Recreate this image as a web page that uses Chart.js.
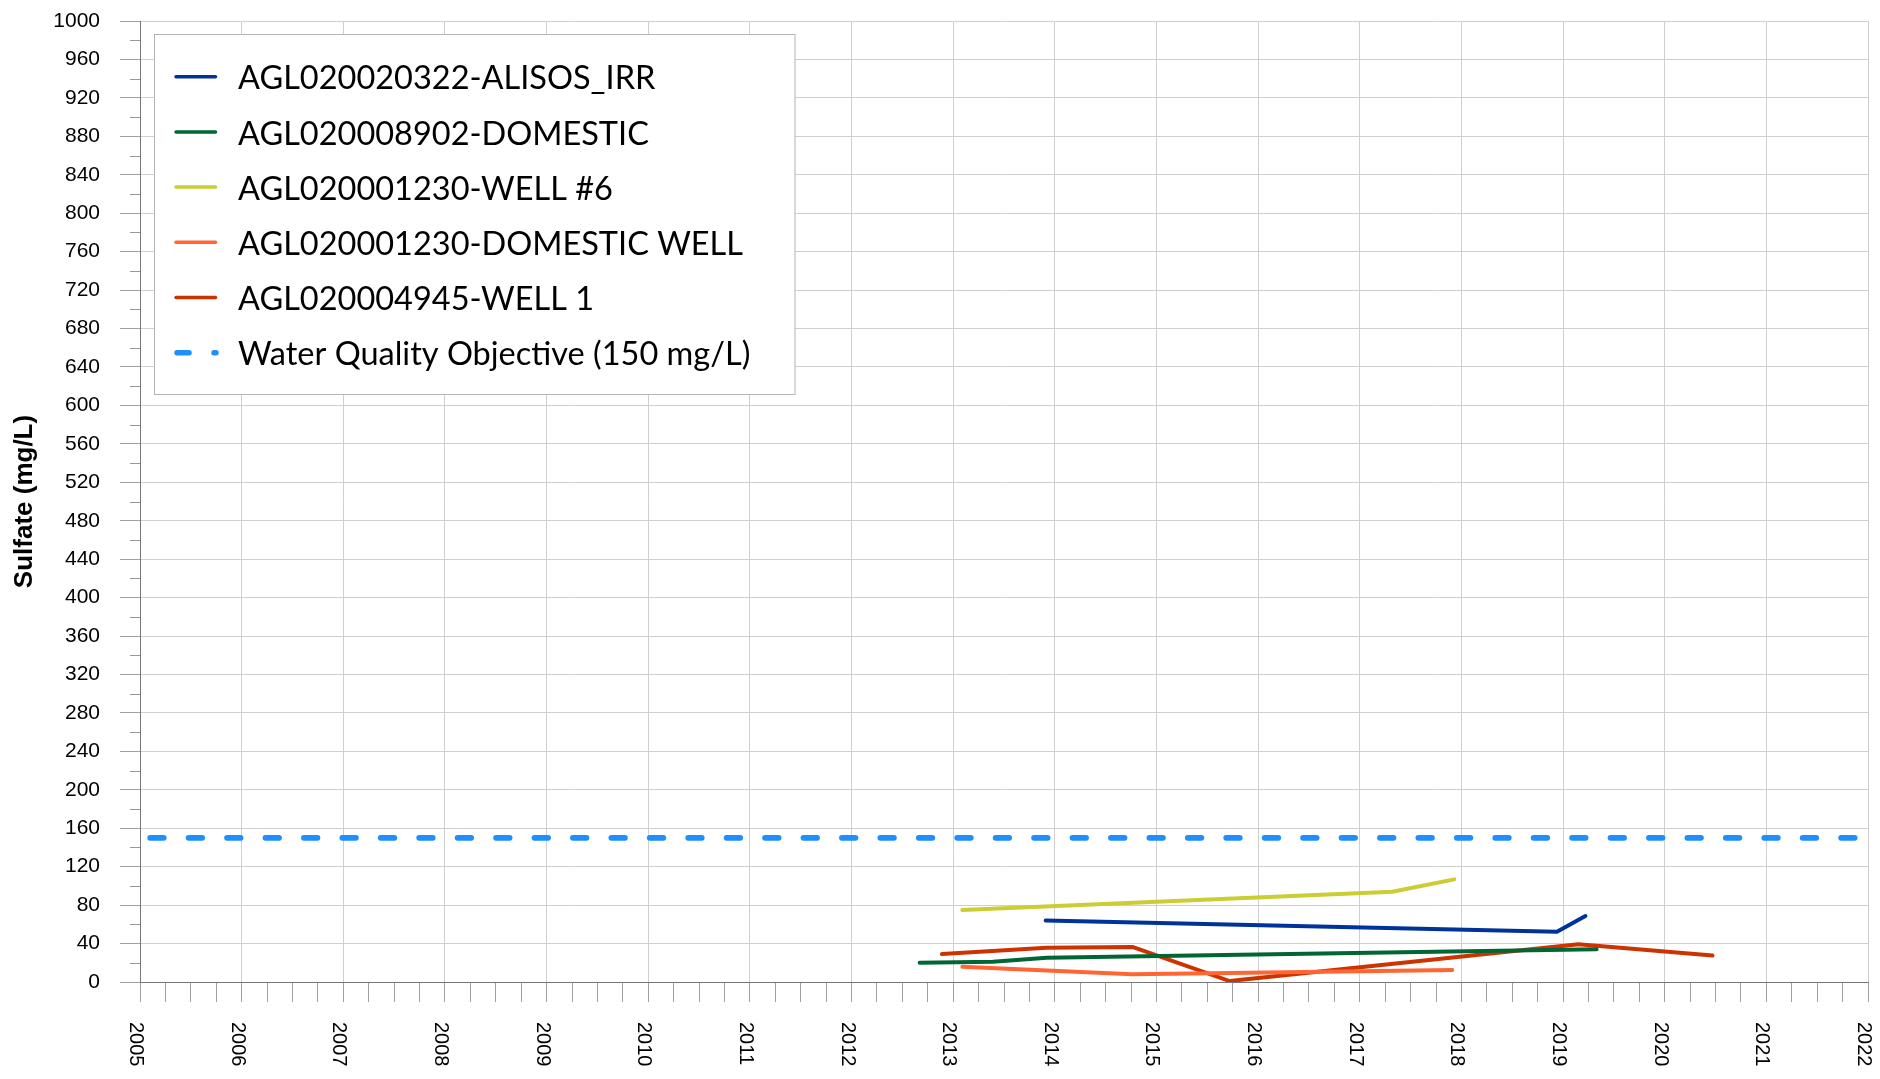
<!DOCTYPE html>
<html>
<head>
<meta charset="utf-8">
<title>Sulfate</title>
<script src="https://cdn.jsdelivr.net/npm/chart.js@4.4.1/dist/chart.umd.min.js"></script>
<style>
  html, body { margin: 0; padding: 0; background: #fff; }
  #wrap { width: 1880px; height: 1079px; position: relative; }
</style>
</head>
<body>
<div id="wrap"><canvas id="chart"></canvas></div>
<script>
// values (decimal years, mg/L)
const alisosYears = [2013.91, 2018.94, 2019.22];
const alisosSulfate = [64.0, 52.3, 68.7];

const domesticYears = [2012.67, 2013.39, 2013.92, 2019.33];
const domesticSulfate = [20.1, 21.1, 25.3, 34.0];

const well6Years = [2013.09, 2017.32, 2017.93];
const well6Sulfate = [75.0, 93.9, 106.8];

const domWellYears = [2013.09, 2014.76, 2015.72, 2017.91];
const domWellSulfate = [15.9, 8.0, 9.4, 12.5];

const well1Years = [2012.89, 2013.92, 2014.77, 2015.72, 2019.15, 2020.47];
const well1Sulfate = [29.1, 35.7, 36.4, 1.0, 39.2, 27.5];

const objectiveYears = [2005.1, 2021.885];
const objectiveSulfate = [150, 150];

const seriesLabels = [
  "AGL020020322-ALISOS_IRR",
  "AGL020008902-DOMESTIC",
  "AGL020001230-WELL #6",
  "AGL020001230-DOMESTIC WELL",
  "AGL020004945-WELL 1",
  "Water Quality Objective (150 mg/L)",
];
const seriesColors = ["#003399", "#006633", "#CCCC33", "#FF6633", "#CC3300", "#1E8FFF"];

const yearLabels = [2005, 2006, 2007, 2008, 2009, 2010, 2011, 2012, 2013,
  2014, 2015, 2016, 2017, 2018, 2019, 2020, 2021, 2022];

function toPoints(xs, ys) {
  return xs.map((x, i) => ({ x: x, y: ys[i] }));
}

function solidSet(i, xs, ys) {
  return {
    label: seriesLabels[i],
    data: toPoints(xs, ys),
    borderColor: seriesColors[i],
    borderWidth: 4,
    borderCapStyle: "round",
    borderJoinStyle: "round",
    pointRadius: 0,
    tension: 0,
    fill: false,
  };
}

Chart.defaults.font.family = "'Liberation Sans', Arial, sans-serif";
Chart.defaults.color = "#000";

// minor ticks on y, rotated year labels, boxed legend
const extras = {
  id: "extras",
  afterDraw(chart) {
    const ctx = chart.ctx;
    const xs = chart.scales.x;
    const ys = chart.scales.y;
    const area = chart.chartArea;

    ctx.save();
    ctx.strokeStyle = "#999";
    ctx.lineWidth = 1;
    for (let v = 20; v < 1000; v += 40) {
      const py = Math.round(ys.getPixelForValue(v)) + 0.5;
      ctx.beginPath();
      ctx.moveTo(area.left - 10, py);
      ctx.lineTo(area.left, py);
      ctx.stroke();
    }

    ctx.fillStyle = "#000";
    ctx.font = "20px 'Liberation Sans', Arial, sans-serif";
    ctx.textAlign = "left";
    ctx.textBaseline = "alphabetic";
    yearLabels.forEach((yr) => {
      const px = xs.getPixelForValue(yr);
      ctx.save();
      ctx.translate(px - 10, area.bottom + 40);
      ctx.rotate(Math.PI / 2);
      ctx.fillText(String(yr), 0, 0);
      ctx.restore();
    });

    // legend
    const bx = 154.5, by = 34.5, bw = 640.5, bh = 360;
    ctx.fillStyle = "#fff";
    ctx.fillRect(bx, by, bw, bh);
    ctx.strokeStyle = "#b4b4b4";
    ctx.strokeRect(bx, by, bw, bh);

    ctx.font = "32.5px Lato, 'Open Sans', sans-serif";
    chart.data.datasets.forEach((ds, i) => {
      const cy = 76.7 + i * 55.2;
      ctx.strokeStyle = ds.borderColor;
      ctx.lineCap = "round";
      if (ds.borderDash) {
        ctx.lineWidth = 5.5;
        ctx.setLineDash([12, 25]);
        ctx.beginPath();
        ctx.moveTo(177, cy);
        ctx.lineTo(216, cy);
        ctx.stroke();
        ctx.setLineDash([]);
      } else {
        ctx.lineWidth = 3.5;
        ctx.beginPath();
        ctx.moveTo(176, cy);
        ctx.lineTo(215.5, cy);
        ctx.stroke();
      }
      ctx.fillStyle = "#000";
      ctx.fillText(ds.label, 238, cy + 12.6);
    });
    ctx.restore();
  },
};

new Chart(document.getElementById("chart"), {
  type: "line",
  data: {
    datasets: [
      solidSet(0, alisosYears, alisosSulfate),
      solidSet(1, domesticYears, domesticSulfate),
      solidSet(2, well6Years, well6Sulfate),
      solidSet(3, domWellYears, domWellSulfate),
      solidSet(4, well1Years, well1Sulfate),
      {
        label: seriesLabels[5],
        data: toPoints(objectiveYears, objectiveSulfate),
        borderColor: seriesColors[5],
        borderWidth: 5.7,
        borderDash: [13.6, 24.83],
        borderCapStyle: "round",
        pointRadius: 0,
        fill: false,
      },
    ],
  },
  options: {
    responsive: true,
    maintainAspectRatio: false,
    animation: false,
    layout: { padding: { top: 21, right: 12, bottom: 0, left: 0 } },
    plugins: {
      legend: { display: false },
      tooltip: { enabled: false },
    },
    scales: {
      x: {
        type: "linear",
        min: 2005,
        max: 2022,
        afterFit: (s) => {
          s.height = 97;
          s.paddingLeft = 0;
          s.paddingRight = 0;
        },
        ticks: {
          stepSize: 0.25,
          autoSkip: false,
          maxRotation: 0,
          callback: () => "",
        },
        grid: {
          color: (c) => Number.isInteger(c.tick.value) ? "#cfcfcf" : "rgba(0,0,0,0)",
          tickColor: "#a0a0a0",
          tickLength: 20,
        },
        border: { color: "#777" },
      },
      y: {
        min: 0,
        max: 1000,
        afterFit: (s) => {
          s.width = 140;
          s.paddingTop = 0;
          s.paddingBottom = 0;
        },
        ticks: {
          stepSize: 40,
          padding: 20,
          font: { size: 21 },
          color: "#000",
          callback: (v) => String(v),
        },
        grid: {
          color: "#cfcfcf",
          tickColor: "#a0a0a0",
          tickLength: 20,
        },
        border: { color: "#777" },
        title: {
          display: true,
          text: "Sulfate (mg/L)",
          font: { size: 26, weight: "bold" },
          color: "#000",
          padding: { top: 9, bottom: 0 },
        },
      },
    },
  },
  plugins: [extras],
});
</script>
</body>
</html>
